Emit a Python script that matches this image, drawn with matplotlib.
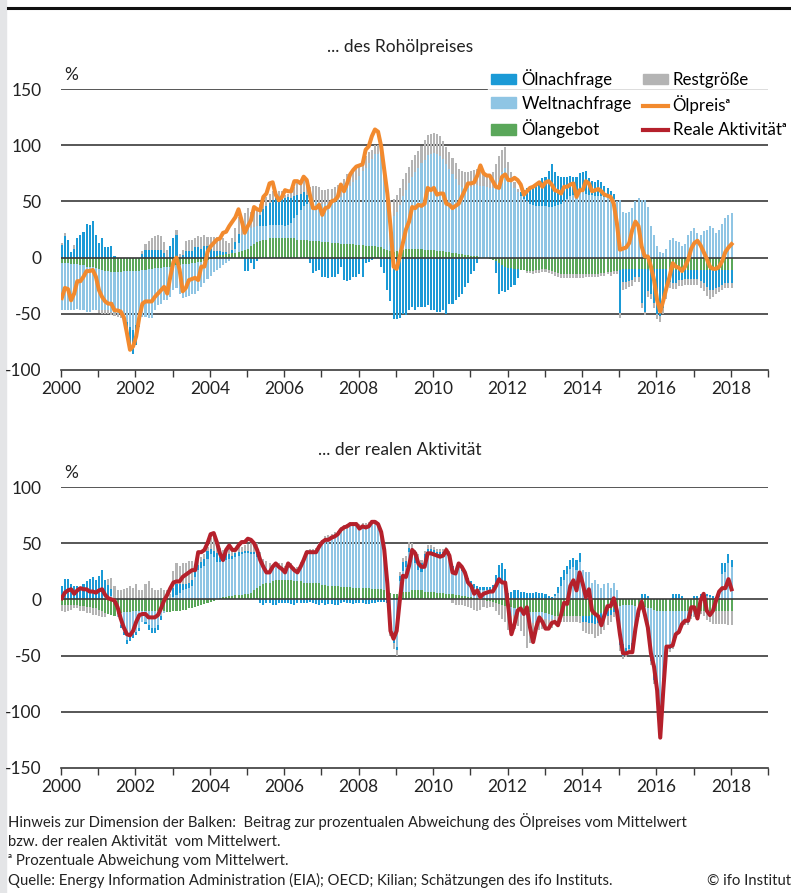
import numpy as np
import matplotlib
matplotlib.use("Agg")
import matplotlib.pyplot as plt
from matplotlib.patches import Patch, Rectangle
from matplotlib.lines import Line2D

plt.rcParams['font.family'] = ['Lato', 'DejaVu Sans']

# monthly values Jan 2000 - Jan 2018, percent
# --- panel 1: decomposition of the oil price ---
oil_supply_p = [
    -5, -5, -5, -6, -6, -6, -7, -7, -8, -8, -8, -9,
    -10, -11, -12, -12, -13, -13, -13, -13, -12, -12, -12, -12,
    -12, -12, -11, -11, -10, -10, -9, -9, -9, -8, -8, -8,
    -7, -7, -7, -6, -6, -6, -5, -5, -4, -4, -3, -2,
    -1, 0, 1, 2, 2, 3, 3, 4, 4, 5, 6, 7,
    8, 10, 12, 14, 15, 16, 16, 17, 17, 17, 17, 17,
    17, 17, 17, 17, 16, 16, 16, 16, 15, 15, 15, 15,
    14, 14, 14, 13, 13, 13, 12, 12, 12, 12, 12, 11,
    11, 11, 10, 10, 10, 10, 9, 9, 8, 7, 6, 5,
    6, 7, 7, 8, 8, 8, 8, 8, 8, 7, 7, 7,
    7, 6, 6, 6, 5, 5, 4, 4, 3, 3, 2, 2,
    1, 1, 1, 0, 0, 0, -1, -2, -3, -5, -7, -8,
    -9, -9, -10, -10, -11, -11, -12, -12, -12, -11, -11, -10,
    -10, -11, -12, -13, -14, -15, -15, -15, -15, -15, -15, -15,
    -15, -15, -15, -15, -15, -15, -14, -14, -13, -13, -12, -12,
    -11, -10, -10, -10, -10, -10, -10, -10, -10, -10, -10, -10,
    -10, -10, -10, -10, -10, -11, -11, -11, -11, -11, -11, -11,
    -11, -11, -11, -11, -11, -11, -11, -11, -11, -11, -11, -11,
    -11]
world_demand_p = [
    -42, -42, -42, -41, -41, -40, -40, -40, -40, -40, -39, -38,
    -37, -36, -35, -35, -35, -36, -37, -38, -40, -45, -50, -52,
    -48, -42, -42, -42, -44, -44, -38, -33, -32, -30, -30, -27,
    -22, -20, -25, -30, -29, -28, -27, -27, -26, -22, -20, -17,
    -15, -13, -11, -9, -7, -5, -3, 0, 4, 8, 14, 18,
    18, 16, 15, 14, 13, 12, 12, 12, 12, 12, 12, 12,
    11, 12, 14, 18, 22, 26, 30, 32, 34, 35, 35, 34,
    34, 34, 35, 36, 38, 40, 42, 46, 50, 52, 55, 58,
    62, 66, 70, 74, 78, 82, 83, 81, 70, 50, 35, 32,
    35, 40, 48, 52, 58, 64, 68, 72, 76, 80, 84, 85,
    86, 86, 84, 82, 78, 74, 70, 66, 62, 60, 60, 60,
    62, 63, 64, 64, 64, 63, 62, 62, 65, 70, 76, 80,
    70, 66, 62, 58, 55, 52, 50, 48, 47, 46, 46, 46,
    46, 45, 45, 46, 47, 48, 50, 52, 55, 56, 57, 58,
    58, 57, 56, 56, 55, 55, 55, 54, 54, 53, 52, 50,
    51, 41, 40, 41, 44, 50, 53, 51, 51, 45, 28, 20,
    10, 5, 4, 8, 16, 17, 15, 14, 10, 12, 20, 24,
    26, 22, 20, 24, 25, 28, 26, 22, 25, 30, 35, 38,
    40]
oil_demand_p = [
    11, 19, 16, 5, 8, 17, 20, 23, 30, 29, 33, 20,
    13, 17, 9, 9, 10, 1, 0, 0, -3, -10, -20, -22,
    -18, -8, 3, 7, 7, 7, 7, 7, 7, 4, 0, 10,
    17, 20, 0, 2, 6, 6, 6, 9, 9, 8, 10, 10,
    8, 6, 5, 4, 3, 2, 0, 3, 6, 8, 0, -12,
    -12, -5, -10, -3, 10, 15, 18, 20, 22, 24, 25, 25,
    25, 25, 22, 20, 18, 15, 12, 8, -5, -14, -12, -11,
    -17, -17, -18, -17, -17, -15, -8, -20, -21, -20, -17, -17,
    -15, -17, -5, -4, -2, 0, 0, -8, -14, -29, -39, -55,
    -55, -54, -50, -51, -47, -44, -47, -44, -44, -44, -42, -47,
    -47, -48, -48, -47, -50, -41, -41, -38, -35, -32, -26, -23,
    -15, -12, -5, 0, 0, 0, 0, 0, -11, -27, -23, -23,
    -20, -17, -14, -8, 3, 8, 12, 15, 18, 20, 22, 25,
    26, 32, 38, 30, 26, 24, 22, 20, 18, 16, 15, 17,
    18, 20, 15, 12, 12, 14, 12, 10, 8, 6, 5, 0,
    -38, -12, -12, -11, -10, -7, -7, -30, -38, -20, -22, -30,
    -40, -42, -35, -19, -12, -12, -12, -9, -9, -8, -8, -8,
    -8, -8, -10, -12, -15, -18, -18, -16, -15, -13, -12, -12,
    -12]
residual_p = [
    2, 3, 0, 0, 3, 0, 0, 0, 0, 0, 0, 0,
    -2, -3, -3, -3, -3, -3, -3, -3, -2, 0, 0, 0,
    0, 0, 3, 5, 8, 10, 12, 13, 12, 10, 7, 0,
    0, 5, 3, 5, 9, 10, 10, 8, 10, 10, 10, 8,
    10, 12, 12, 12, 12, 10, 10, 10, 12, 15, 10, 15,
    18, 15, 18, 15, 10, 8, 8, 8, 8, 6, 5, 5,
    3, 3, 5, 8, 10, 12, 12, 14, 14, 14, 14, 14,
    12, 12, 12, 12, 12, 12, 12, 12, 12, 10, 10, 10,
    10, 10, 10, 10, 8, 8, 8, 8, 8, 8, 10, 15,
    15, 15, 15, 15, 15, 15, 15, 15, 15, 18, 18, 18,
    18, 18, 18, 16, 15, 15, 15, 14, 14, 14, 14, 14,
    14, 14, 14, 12, 10, 10, 12, 14, 18, 20, 20, 18,
    15, 10, 5, 3, 0, 0, -2, -2, -3, -3, -3, -3,
    -3, -3, -3, -3, -3, -3, -3, -3, -3, -3, -3, -3,
    -3, -2, -2, -2, -2, -2, -2, -2, -2, -3, -3, -3,
    -5, -7, -6, -5, -5, -5, -5, -5, -3, -5, -5, -5,
    -5, -5, -5, -8, -5, -5, -5, -5, -5, -5, -5, -5,
    -5, -5, -6, -7, -8, -8, -6, -5, -5, -5, -4, -4,
    -4]
oil_price = [
    -36, -27, -28, -38, -32, -21, -21, -17, -12, -12, -11, -17,
    -29, -35, -39, -41, -41, -47, -47, -48, -53, -67, -82, -79,
    -70, -53, -41, -39, -39, -39, -35, -32, -29, -26, -32, -17,
    -4, 0, -11, -30, -27, -20, -19, -18, -20, -8, -8, 5,
    10, 13, 16, 17, 22, 23, 28, 32, 36, 43, 33, 22,
    28, 33, 45, 43, 42, 54, 57, 66, 67, 56, 51, 54,
    60, 59, 59, 68, 68, 66, 72, 69, 56, 44, 44, 47,
    38, 44, 45, 50, 51, 54, 65, 59, 66, 74, 78, 81,
    82, 83, 96, 99, 108, 114, 112, 99, 78, 57, 28, -8,
    -10, 1, 13, 25, 32, 45, 44, 47, 46, 48, 62, 60,
    62, 56, 57, 57, 48, 47, 44, 46, 48, 54, 60, 66,
    66, 67, 73, 82, 75, 73, 73, 68, 63, 62, 72, 74,
    69, 69, 71, 69, 65, 56, 59, 62, 63, 65, 67, 63,
    67, 68, 65, 60, 59, 57, 63, 63, 65, 66, 54, 60,
    60, 68, 66, 59, 60, 61, 59, 56, 55, 54, 48, 31,
    7, 8, 9, 13, 25, 32, 28, 10, 1, 1, -8, -20,
    -38, -48, -38, -27, -17, -5, -8, -9, -12, -8, -2, 8,
    13, 15, 11, 5, -1, -8, -10, -10, -8, -3, 5, 9,
    12]

# --- panel 2: decomposition of real activity ---
oil_supply_a = [
    -5, -5, -5, -5, -5, -5, -6, -6, -7, -7, -8, -8,
    -9, -10, -12, -13, -14, -15, -13, -12, -11, -11, -11, -10,
    -10, -10, -10, -10, -10, -10, -10, -10, -10, -10, -11, -11,
    -10, -10, -10, -9, -9, -8, -8, -7, -6, -5, -4, -3,
    -2, -1, 0, 1, 2, 2, 3, 3, 4, 4, 4, 5,
    5, 6, 8, 10, 12, 14, 15, 15, 16, 17, 17, 17,
    17, 17, 17, 16, 16, 16, 15, 15, 15, 15, 15, 15,
    13, 13, 12, 12, 12, 12, 11, 11, 11, 11, 10, 10,
    10, 10, 10, 10, 9, 9, 9, 9, 8, 7, 6, 5,
    5, 6, 7, 7, 7, 8, 8, 8, 8, 7, 7, 7,
    7, 6, 6, 6, 5, 5, 5, 4, 4, 3, 3, 2,
    2, 1, 1, 0, 0, -1, -1, -2, -3, -4, -5, -6,
    -7, -7, -8, -9, -10, -10, -10, -11, -11, -11, -11, -11,
    -12, -13, -14, -15, -15, -15, -15, -15, -15, -15, -15, -15,
    -15, -15, -15, -14, -14, -13, -12, -11, -10, -9, -8, -7,
    -6, -5, -5, -5, -5, -6, -6, -7, -7, -8, -8, -9,
    -10, -10, -10, -10, -10, -10, -10, -10, -10, -10, -10, -10,
    -10, -10, -10, -10, -10, -10, -10, -10, -10, -10, -10, -10,
    -10]
world_demand_a = [
    0, 0, 0, 0, 0, 0, 0, 0, 0, 0, 0, 0,
    0, 0, 2, 3, 3, 0, -3, -11, -18, -25, -22, -21,
    -19, -15, -10, -10, -13, -15, -15, -13, -5, -2, 0, 0,
    2, 4, 6, 8, 9, 10, 12, 20, 26, 28, 30, 36,
    40, 38, 33, 32, 32, 33, 33, 33, 34, 35, 36, 36,
    36, 34, 32, 28, 22, 17, 14, 12, 12, 12, 12, 12,
    10, 12, 12, 10, 10, 14, 20, 26, 27, 27, 28, 32,
    36, 38, 40, 41, 43, 44, 48, 50, 52, 54, 55, 55,
    53, 54, 54, 55, 57, 57, 56, 49, 36, 5, -25, -36,
    -42, 10, 18, 22, 35, 33, 24, 18, 16, 28, 33, 33,
    33, 32, 32, 33, 35, 32, 22, 20, 25, 22, 18, 12,
    10, 9, 8, 8, 8, 8, 8, 10, 14, 16, 14, 15,
    -5, -8, -6, -5, -5, -5, -8, -10, -10, -8, -6, -5,
    -5, -5, -3, 3, 6, 12, 17, 23, 27, 29, 26, 33,
    26, 24, 24, 15, 17, 14, 10, 14, 15, 10, 15, 8,
    -30, -35, -38, -36, -34, -19, -5, 0, -6, -18, -44, -58,
    -68, -95, -60, -32, -32, -31, -21, -18, -9, -9, -9, -3,
    -3, 0, 2, 3, 3, 2, 1, 0, 2, 23, 24, 32,
    29]
oil_demand_a = [
    12, 18, 18, 14, 12, 12, 10, 14, 16, 18, 20, 17,
    21, 26, 15, 10, 6, 0, 0, -2, -3, -4, -4, -3,
    -3, -3, 0, -2, -4, -5, -5, -4, -3, 0, 0, 0,
    8, 10, 8, 6, 5, 5, 5, 4, 5, 5, 6, 7,
    5, 5, 8, 5, 5, 5, 4, 3, 3, 3, 2, 2,
    2, 2, 2, 2, -3, -5, -3, -3, -5, -5, -3, -3,
    -3, -3, -4, -5, -3, -3, -3, -3, -2, -3, -4, -5,
    -3, -5, -4, -4, -5, -5, -3, -2, -3, -3, -4, -3,
    -3, -3, -4, -4, -3, -3, -2, -2, -2, -3, -5, -3,
    -3, 5, 8, 5, 4, 5, 8, 10, 8, 5, 5, 5,
    4, 4, 4, 3, 4, 3, 3, 3, 2, 2, 5, 5,
    4, 4, 3, 3, 3, 3, 3, 3, 8, 15, 18, 12,
    6, 7, 8, 8, 7, 7, 6, 6, 6, 7, 6, 6,
    5, 3, 2, 2, 5, 8, 9, 7, 8, 8, 9, 8,
    -5, -5, -6, -7, -8, -8, -7, -6, -5, -5, -3, -3,
    -5, -10, -5, -3, -3, -3, -3, 5, 5, 3, -3, -5,
    -5, -8, -3, -2, -2, 5, 5, 5, 3, -2, -2, -2,
    3, 3, 3, 2, 2, 2, 2, 2, 4, 9, 8, 8,
    6]
residual_a = [
    -5, -6, -5, -4, -3, -3, -4, -4, -5, -5, -6, -6,
    -6, -6, -4, 5, 10, 12, 8, 8, 9, 10, 12, 10,
    14, 8, 8, 14, 16, 10, 8, 8, 10, 8, 8, 5,
    15, 18, 16, 18, 18, 19, 17, 6, 5, 5, 4, 4,
    10, 12, 10, 8, 5, 5, 5, 5, 5, 5, 5, 5,
    6, 8, 10, 10, 8, 5, 5, 5, 3, 3, 3, 3,
    3, 3, 3, 3, 3, 3, 3, 3, 3, 3, 3, 3,
    4, 5, 5, 5, 5, 5, 5, 5, 4, 4, 4, 4,
    4, 4, 4, 4, 4, 4, 4, 4, 4, 4, -3, -5,
    -5, 3, 4, 5, 5, 4, 4, 4, 3, 3, 3, 3,
    3, 3, 3, 3, 3, 3, -3, -5, -5, -5, -6, -7,
    -8, -9, -10, -9, -7, -7, -6, -5, -7, -10, -12, -14,
    -15, -14, -12, -10, -13, -18, -25, -18, -15, -12, -10, -10,
    -10, -8, -8, -7, -6, -5, -5, -5, -5, -5, -5, -6,
    -8, -10, -10, -10, -12, -12, -12, -10, -8, -6, -5, -5,
    -5, -3, -3, -3, -3, -3, -2, -2, -2, -3, -3, -3,
    -5, -5, -5, -3, -3, -3, -3, -3, -2, -2, -2, -2,
    -3, -3, -3, -5, -8, -10, -12, -12, -12, -12, -12, -13,
    -13]
real_activity = [
    1, 6, 8, 9, 5, 8, 10, 9, 9, 7, 7, 6,
    8, 9, 4, 1, 0, -1, -7, -17, -25, -31, -32, -28,
    -20, -14, -13, -13, -16, -16, -16, -14, -8, -1, 4, 10,
    15, 16, 16, 20, 22, 24, 26, 26, 42, 42, 44, 50,
    58, 59, 51, 41, 35, 44, 48, 44, 44, 48, 51, 51,
    54, 53, 50, 44, 35, 29, 24, 24, 29, 32, 29, 27,
    24, 32, 29, 26, 24, 29, 35, 42, 42, 42, 42, 47,
    51, 53, 53, 55, 56, 58, 62, 64, 65, 67, 67, 67,
    63, 65, 64, 65, 69, 69, 67, 60, 44, 14, -28, -35,
    -28, -1, 21, 20, 30, 44, 41, 32, 29, 29, 41, 41,
    40, 39, 38, 39, 44, 39, 24, 23, 32, 29, 24, 15,
    12, 5, 8, 2, 5, 6, 7, 7, 12, 18, 15, 15,
    -7, -31, -22, -10, -8, -13, -7, -25, -38, -25, -16, -20,
    -26, -26, -21, -20, -23, -14, -3, -4, 12, 17, 8, 24,
    14, 2, 9, -10, -13, -15, -23, -14, -6, -6, 1, -10,
    -31, -48, -48, -47, -47, -26, -10, -2, -13, -25, -48, -60,
    -81, -123, -80, -42, -42, -41, -31, -29, -22, -19, -19, -7,
    -7, -17, -1, 5, -10, -14, -10, -1, 7, 10, 10, 18,
    9]

labels = ['Ölnachfrage', 'Weltnachfrage', 'Ölangebot', 'Restgröße']
c_oil_demand = '#1b9ad6'
c_world = '#8fc5e4'
c_supply = '#5aa75a'
c_resid = '#b4b4b4'
c_price = '#f28a2e'
c_act = '#b5202b'
grid_c = '#3a3a3a'

n = len(oil_price)
x = 2000 + (np.arange(n) + 0.25) / 12.0
bw = 0.055


def stacked(ax, comps, colors):
    pos_base = np.zeros(n)
    neg_base = np.zeros(n)
    for vals, col in zip(comps, colors):
        v = np.array(vals, dtype=float)
        p = np.clip(v, 0, None)
        m = np.clip(v, None, 0)
        ax.bar(x, p, bottom=pos_base, width=bw, color=col, linewidth=0, zorder=2)
        ax.bar(x, m, bottom=neg_base, width=bw, color=col, linewidth=0, zorder=2)
        pos_base += p
        neg_base += m


def style(ax, ymin, ymax):
    ax.set_xlim(2000, 2019)
    ax.set_ylim(ymin, ymax)
    ticks = np.arange(ymin, ymax + 1, 50)
    ax.set_yticks(ticks)
    ax.set_yticklabels([str(t) for t in ticks])
    for t in ticks[1:]:
        ax.axhline(t, color=grid_c, lw=1.2, zorder=1 if t != 0 else 3)
    for s in ['top', 'right', 'left']:
        ax.spines[s].set_visible(False)
    ax.spines['bottom'].set_color(grid_c)
    ax.spines['bottom'].set_linewidth(1.2)
    ax.set_xticks(range(2000, 2020))
    ax.set_xticklabels([str(y) if y % 2 == 0 and y < 2019 else '' for y in range(2000, 2020)])
    ax.tick_params(axis='y', length=0, pad=14, labelsize=12.5, colors='#222222')
    ax.tick_params(axis='x', length=5, width=1, color=grid_c, pad=3, labelsize=12.5,
                   labelcolor='#222222')


fig = plt.figure(figsize=(7.91, 8.93), dpi=100)
W, H = 791.0, 893.0

ax1 = fig.add_axes([61 / W, 1 - 370 / H, 707 / W, (370 - 89) / H])
stacked(ax1, [oil_supply_p, world_demand_p, oil_demand_p, residual_p],
        [c_supply, c_world, c_oil_demand, c_resid])
ax1.plot(x, oil_price, color=c_price, lw=2.9, zorder=4, solid_joinstyle='round')
style(ax1, -100, 150)

ax2 = fig.add_axes([61 / W, 1 - 768 / H, 707 / W, (768 - 487) / H])
stacked(ax2, [oil_supply_a, world_demand_a, oil_demand_a, residual_a],
        [c_supply, c_world, c_oil_demand, c_resid])
ax2.plot(x, real_activity, color=c_act, lw=2.9, zorder=4, solid_joinstyle='round')
style(ax2, -150, 100)

# titles and unit labels
fig.text(400 / W, 1 - 47 / H, '... des Rohölpreises', ha='center', va='center',
         fontsize=12.5, color='#222222')
fig.text(400 / W, 1 - 450 / H, '... der realen Aktivität', ha='center', va='center',
         fontsize=12.5, color='#222222')
fig.text(64 / W, 1 - 75 / H, '%', ha='left', va='center', fontsize=12.5, color='#222222')
fig.text(64 / W, 1 - 473 / H, '%', ha='left', va='center', fontsize=12.5, color='#222222')

# legend
handles = [Patch(color=c_oil_demand, label=labels[0]),
           Patch(color=c_world, label=labels[1]),
           Patch(color=c_supply, label=labels[2]),
           Patch(color=c_resid, label=labels[3]),
           Line2D([], [], color=c_price, lw=3, label='Ölpreisᵃ'),
           Line2D([], [], color=c_act, lw=3, label='Reale Aktivitätᵃ')]
leg = fig.legend(handles=handles, ncol=2, loc='upper left',
                 bbox_to_anchor=(479.5 / W, 1 - 57 / H), frameon=True,
                 fontsize=12.2, handlelength=1.47, handleheight=0.58,
                 handletextpad=0.3, columnspacing=0.65, labelspacing=0.46,
                 borderpad=0.2, fancybox=False)
leg.get_frame().set_facecolor('white')
leg.get_frame().set_edgecolor('white')
leg.set_zorder(10)

# frame decorations
fig.add_artist(Rectangle((0, 0), 6 / W, 1, transform=fig.transFigure,
                         color='#e4e5e7', zorder=0))
fig.add_artist(Line2D([8 / W, 1], [1 - 8 / H, 1 - 8 / H], transform=fig.transFigure,
                      color='#111111', lw=2.2))

# footnotes
notes = ['Hinweis zur Dimension der Balken:  Beitrag zur prozentualen Abweichung des Ölpreises vom Mittelwert',
         'bzw. der realen Aktivität  vom Mittelwert.',
         'ᵃ Prozentuale Abweichung vom Mittelwert.',
         'Quelle: Energy Information Administration (EIA); OECD; Kilian; Schätzungen des ifo Instituts.']
for i, t in enumerate(notes):
    fig.text(8 / W, 1 - (822 + 19.5 * i) / H, t, ha='left', va='center',
             fontsize=10.7, color='#222222')
fig.text(1.0, 1 - 881 / H, '© ifo Institut', ha='right', va='center',
         fontsize=10.7, color='#222222')

fig.savefig('out.png', dpi=100)
